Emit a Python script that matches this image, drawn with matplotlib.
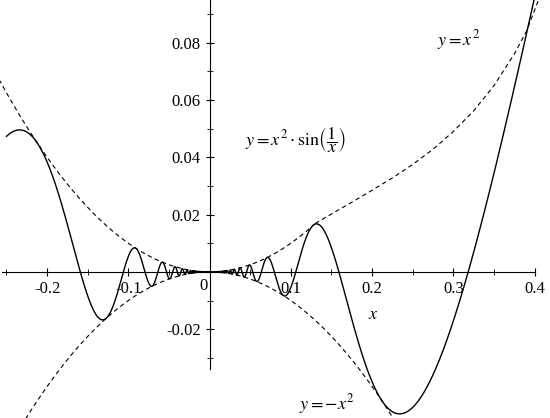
import numpy as np
import matplotlib.pyplot as plt
from matplotlib.ticker import FixedLocator

plt.rcParams['font.family'] = ['Liberation Serif', 'DejaVu Serif']
plt.rcParams['mathtext.fontset'] = 'stix'

# solid curve y = x^2 sin(1/x)
x_main = np.linspace(-0.25, 0.4, 20000)
x_main = x_main[x_main != 0]
y_main = x_main ** 2 * np.sin(1 / x_main)

# dashed envelopes
x_left = np.linspace(-0.26, 0.13, 300)
y_upper_left = x_left ** 2
# upper dashed on the right
x_upper_right = [0.13, 0.15, 0.175, 0.2, 0.225, 0.25, 0.275, 0.3, 0.325, 0.35, 0.375, 0.39, 0.405]
y_upper_right = [0.0169, 0.0202, 0.0243, 0.0285, 0.0328, 0.0375, 0.0428, 0.0490, 0.0562, 0.0650, 0.0760, 0.0840, 0.0950]
x_low = np.linspace(-0.26, 0.245, 500)
y_lower = -x_low ** 2

xticks = [-0.2, -0.1, 0.1, 0.2, 0.3, 0.4]
yticks = [-0.02, 0.02, 0.04, 0.06, 0.08]
xminor = [-0.25, -0.15, -0.05, 0.05, 0.15, 0.25, 0.35]
yminor = [-0.03, -0.01, 0.01, 0.03, 0.05, 0.07, 0.09]

fig = plt.figure(figsize=(5.5, 4.18), dpi=100)
ax = fig.add_axes([0, 0, 1, 1])
ax.plot(x_main, y_main, color='black', lw=1)
dash = (0, (4, 3))
ax.plot(x_left, y_upper_left, color='black', lw=0.8, ls=dash)
ax.plot(x_upper_right, y_upper_right, color='black', lw=0.8, ls=dash)
ax.plot(x_low, y_lower, color='black', lw=0.8, ls=dash)
ax.set_xlim(-0.258, 0.419)
ax.set_ylim(-0.051, 0.0949)

for s in ['top', 'right']:
    ax.spines[s].set_visible(False)
ax.spines['left'].set_position(('data', 0))
ax.spines['bottom'].set_position(('data', 0))
ax.spines['left'].set_bounds(-0.034, 0.0949)
ax.spines['bottom'].set_bounds(-0.255, 0.4)
ax.set_xticks(xticks)
ax.set_yticks(yticks)
ax.xaxis.set_minor_locator(FixedLocator(xminor))
ax.yaxis.set_minor_locator(FixedLocator(yminor))
ax.tick_params(which='both', direction='inout', labelsize=12)
ax.tick_params(which='major', length=6)
ax.tick_params(which='minor', length=5)
ax.set_xticklabels([f'{t:g}' for t in xticks])
ax.set_yticklabels([f'{t:.2f}' for t in yticks])
ax.text(-0.003, -0.002, '0', ha='right', va='top', fontsize=12)

ax.text(0.202, -0.012, r'$x$', fontsize=13, ha='center', va='top')
ax.text(0.28, 0.079, r'$y = x^2$', fontsize=13)
ax.text(0.043, 0.046, r'$y = x^2 \cdot \sin\!\left(\dfrac{1}{x}\right)$', fontsize=13, va='center')
ax.text(0.11, -0.048, r'$y = -x^2$', fontsize=13)

fig.savefig('out.png', dpi=100)
